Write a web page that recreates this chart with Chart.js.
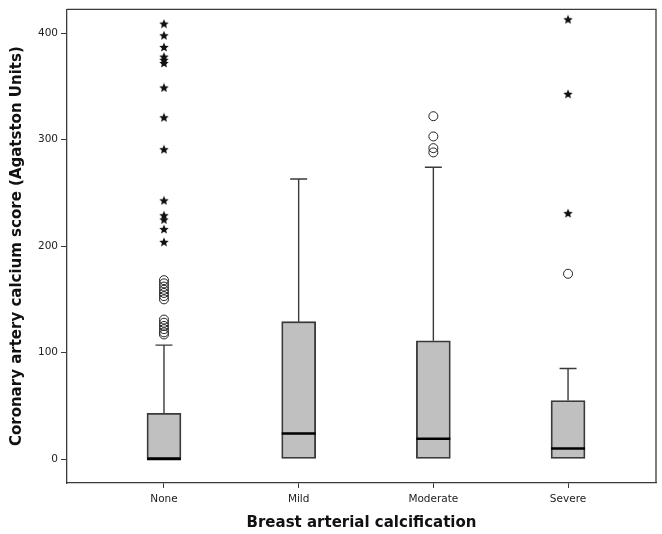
<!DOCTYPE html>
<html>
<head>
<meta charset="utf-8">
<script src="https://cdn.jsdelivr.net/npm/chart.js@4.4.0/dist/chart.umd.min.js"></script>
<style>
  html, body { margin: 0; padding: 0; background: #fff; }
  #wrap { width: 662px; height: 534px; }
</style>
</head>
<body>
<div id="wrap"><canvas id="chart" width="662" height="534"></canvas></div>
<script>
const categories = ["None", "Mild", "Moderate", "Severe"];
const q1 = [0, 0, 0, 0];
const medians = [0, 24, 19, 10];
const q3 = [43, 129, 111, 55];
const whiskerHigh = [107, 263, 274, 85];
const yTicks = [0, 100, 200, 300, 400];

// outliers per category (circles = outliers, stars = extremes)
const circleOutliers = [
  [168, 165, 162, 159, 156, 153, 150, 131, 128, 125, 122, 119, 117],
  [],
  [322, 303, 292, 288],
  [174]
];
const starOutliers = [
  [409, 398, 387, 378, 375, 372, 349, 321, 291, 243, 229, 225, 216, 204],
  [],
  [],
  [413, 343, 231]
];

const frameColor = "#3a3a3a";

function makeStar(size) {
  const c = document.createElement("canvas");
  c.width = size;
  c.height = size;
  const g = c.getContext("2d");
  const r = size / 2;
  const ri = r * 0.45;
  g.beginPath();
  for (let k = 0; k < 10; k++) {
    const a = -Math.PI / 2 + (k * Math.PI) / 5;
    const rr = k % 2 ? ri : r;
    g.lineTo(r + rr * Math.cos(a), r + 0.5 + rr * Math.sin(a));
  }
  g.closePath();
  g.fillStyle = "#111";
  g.fill();
  return c;
}

const boxData = categories.map((c, i) => ({ x: i + 1, y: [q1[i], q3[i]] }));
const circlePts = [];
const starPts = [];
circleOutliers.forEach((arr, i) => arr.forEach((v) => circlePts.push({ x: i + 1, y: v })));
starOutliers.forEach((arr, i) => arr.forEach((v) => starPts.push({ x: i + 1, y: v })));

const boxParts = {
  id: "boxParts",
  afterDatasetsDraw(chart) {
    const { ctx, chartArea, scales } = chart;
    const x = scales.x;
    const y = scales.y;
    ctx.save();
    categories.forEach((c, i) => {
      const cx = x.getPixelForValue(i + 1);
      const capL = x.getPixelForValue(i + 1 - 0.063);
      const capR = x.getPixelForValue(i + 1 + 0.063);
      const boxL = x.getPixelForValue(i + 1 - 0.126);
      const boxR = x.getPixelForValue(i + 1 + 0.126);
      // whisker
      ctx.strokeStyle = frameColor;
      ctx.lineWidth = 1.4;
      ctx.beginPath();
      ctx.moveTo(cx, y.getPixelForValue(q3[i]));
      ctx.lineTo(cx, y.getPixelForValue(whiskerHigh[i]));
      ctx.moveTo(capL, y.getPixelForValue(whiskerHigh[i]));
      ctx.lineTo(capR, y.getPixelForValue(whiskerHigh[i]));
      ctx.stroke();
      // median
      ctx.strokeStyle = "#000";
      ctx.lineWidth = 2.5;
      ctx.beginPath();
      ctx.moveTo(boxL, y.getPixelForValue(medians[i]));
      ctx.lineTo(boxR, y.getPixelForValue(medians[i]));
      ctx.stroke();
    });
    // frame top / right
    ctx.strokeStyle = frameColor;
    ctx.lineWidth = 1.3;
    ctx.beginPath();
    ctx.moveTo(chartArea.left, chartArea.top);
    ctx.lineTo(chartArea.right, chartArea.top);
    ctx.lineTo(chartArea.right, chartArea.bottom);
    ctx.stroke();
    ctx.restore();
  }
};

new Chart(document.getElementById("chart"), {
  type: "bar",
  data: {
    datasets: [
      {
        type: "bar",
        data: boxData,
        backgroundColor: "#c0c0c0",
        borderColor: frameColor,
        borderWidth: 1.8,
        borderSkipped: false,
        barThickness: 34,
        grouped: false,
        order: 3
      },
      {
        type: "scatter",
        data: circlePts,
        pointStyle: "circle",
        pointRadius: 4.5,
        pointBorderWidth: 1,
        pointBorderColor: "#222",
        pointBackgroundColor: "rgba(0,0,0,0)",
        order: 1
      },
      {
        type: "scatter",
        data: starPts,
        pointStyle: makeStar(10),
        pointRadius: 5,
        order: 1
      }
    ]
  },
  options: {
    responsive: false,
    animation: false,
    layout: { padding: { top: 7, right: 6, left: 0, bottom: 0 } },
    plugins: { legend: { display: false }, tooltip: { enabled: false } },
    scales: {
      x: {
        type: "linear",
        min: 0.28,
        max: 4.653,
        offset: false,
        grid: { display: true, drawOnChartArea: false, drawTicks: true, tickLength: 5, color: frameColor, offset: false },
        border: { display: true, color: frameColor, width: 1.3 },
        afterBuildTicks: (s) => { s.ticks = categories.map((c, i) => ({ value: i + 1 })); },
        afterFit: (s) => { s.height = 51; },
        ticks: {
          padding: 5,
          color: "#222",
          font: { family: "DejaVu Sans", size: 10.5 },
          callback: (v) => categories[v - 1]
        },
        title: {
          display: true,
          text: "Breast arterial calcification",
          color: "#111",
          font: { family: "DejaVu Sans", size: 15, weight: "bold" },
          padding: { top: 2, bottom: 2 }
        }
      },
      y: {
        min: -22.5,
        max: 422.4,
        grid: { display: true, drawOnChartArea: false, drawTicks: true, tickLength: 6, color: frameColor },
        border: { display: true, color: frameColor, width: 1.3 },
        afterBuildTicks: (s) => { s.ticks = yTicks.map((v) => ({ value: v })); },
        afterFit: (s) => { s.width = 67; },
        ticks: {
          padding: 3,
          color: "#222",
          font: { family: "DejaVu Sans", size: 10.5 }
        },
        title: {
          display: true,
          text: "Coronary artery calcium score (Agatston Units)",
          color: "#111",
          font: { family: "DejaVu Sans", size: 15, weight: "bold" },
          padding: { top: 8, bottom: 2 }
        }
      }
    }
  },
  plugins: [boxParts]
});
</script>
</body>
</html>
